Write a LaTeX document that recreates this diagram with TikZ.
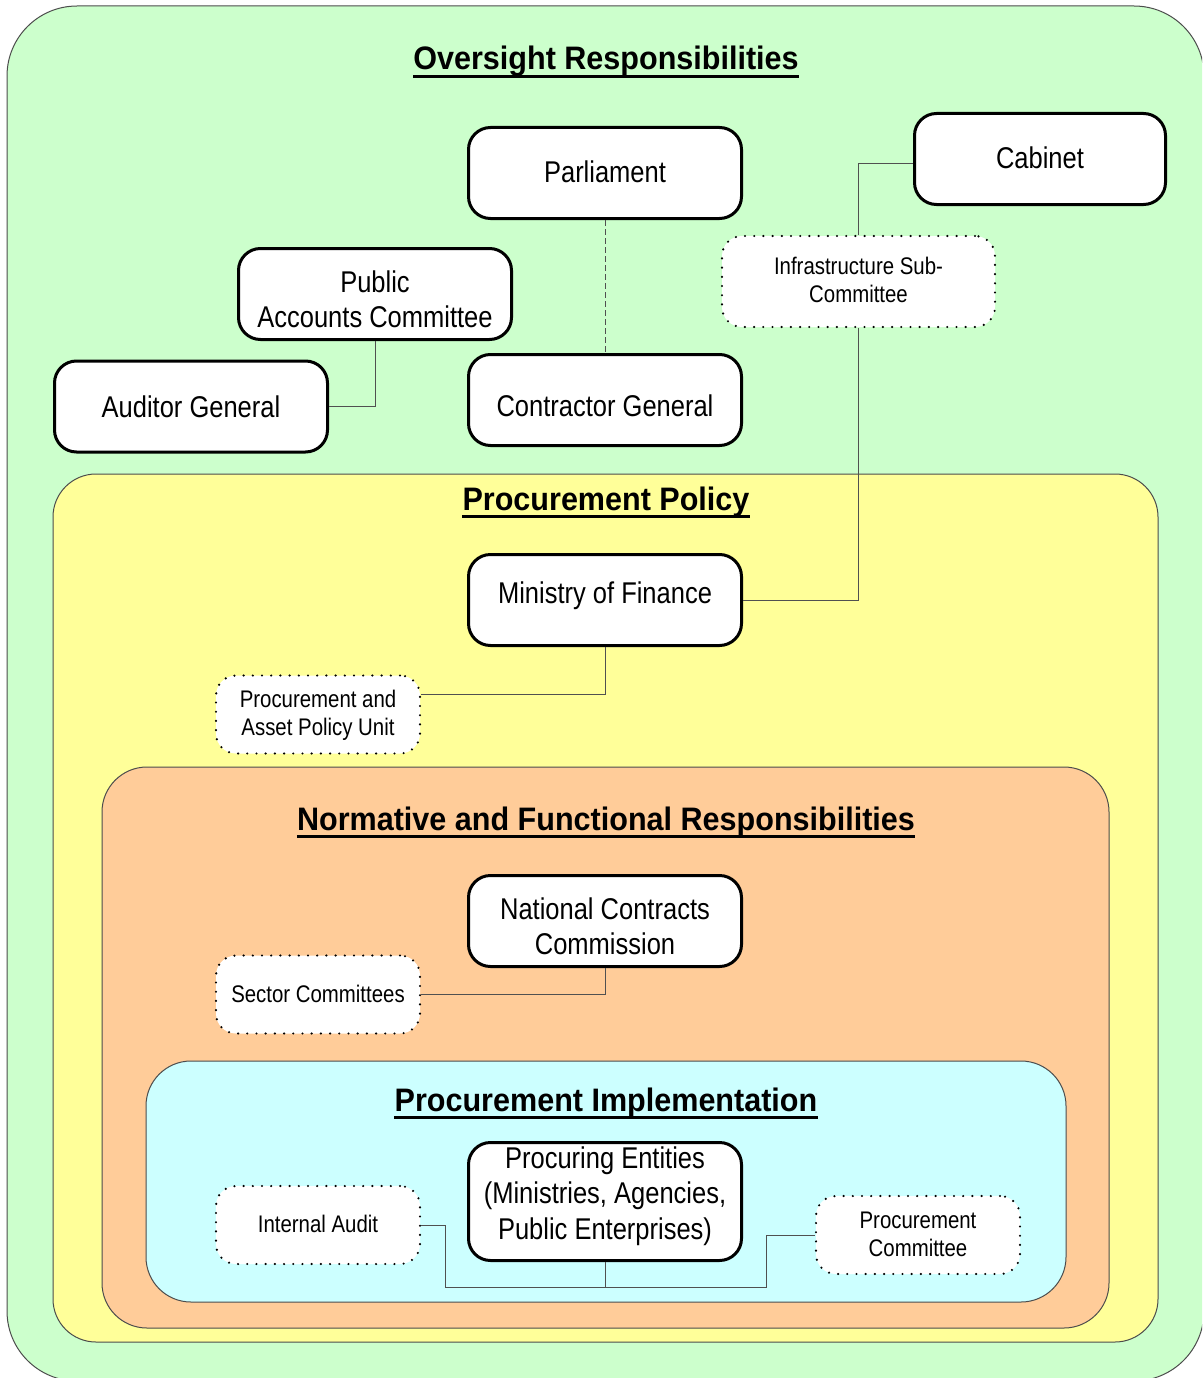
\documentclass[tikz,border=0pt]{standalone}
\usepackage{fontspec}
\setmainfont{Liberation Sans}
\newfontfamily\nfont[FakeStretch=0.85]{Liberation Sans}
\newfontfamily\tfont[FakeStretch=0.94]{Liberation Sans}
\definecolor{greenbg}{HTML}{CCFFCC}
\definecolor{yellowbg}{HTML}{FFFF99}
\definecolor{orangebg}{HTML}{FFCC99}
\definecolor{cyanbg}{HTML}{CCFFFF}
\definecolor{conn}{HTML}{505050}
\newcommand\tx[2]{\raisebox{#1pt}[\height][\depth]{\begin{tabular}{@{}c@{}}#2\end{tabular}}}
\tikzset{
  mainbox/.style={draw=black, line width=3pt, fill=white, rounded corners=22pt,
    minimum width=273pt, minimum height=91pt, inner sep=0pt,
    font=\nfont\fontsize{30}{35.5}\selectfont},
  dotbox/.style={draw=black, line width=2.4pt, dash pattern=on 0pt off 9.2pt, line cap=round,
    fill=white, rounded corners=20pt, minimum width=204pt, minimum height=78pt, inner sep=0pt,
    font=\nfont\fontsize{24}{28}\selectfont},
  cont/.style={draw=black!70, line width=1pt},
  title/.style={inner sep=0pt, anchor=base, font=\tfont\fontsize{32.5}{38}\selectfont\bfseries},
  uline/.style={line width=3pt},
  link/.style={draw=conn, line width=1pt},
}
\begin{document}
\begin{tikzpicture}[x=1pt,y=-1pt]
\useasboundingbox (0,0) rectangle (1202,1378);
\begin{scope}
\clip (0,0) rectangle (1202,1378);
\draw[cont, fill=greenbg, rounded corners=70pt] (7,6) rectangle (1204,1381);
\end{scope}
\draw[cont, fill=yellowbg, rounded corners=43pt] (53,474) rectangle (1158,1342);
\draw[cont, fill=orangebg, rounded corners=45pt] (102,767) rectangle (1109,1328);
\draw[cont, fill=cyanbg, rounded corners=45pt] (146,1061) rectangle (1066,1302);

% titles
\node[title] (t1) at (606,70) {Oversight Responsibilities};
\node[title] (t2) at (606,510) {Procurement Policy};
\node[title] (t3) at (606,830) {Normative and Functional Responsibilities};
\node[title] (t4) at (606,1111) {Procurement Implementation};
\foreach \t in {t1,t2,t3,t4}
  \draw[uline] ([yshift=-6.5pt]\t.base west) -- ([yshift=-6.5pt]\t.base east);

% oversight nodes
\node[mainbox] (parl) at (605,173) {\tx{-2.2}{Parliament}};
\node[mainbox, minimum width=251pt] (cab) at (1040,159) {\tx{-2.7}{Cabinet}};
\node[mainbox] (pac) at (375,294) {\tx{-8.7}{Public\\Accounts Committee}};
\node[mainbox] (ag) at (191,406.5) {\tx{-3.7}{Auditor General}};
\node[mainbox] (cg) at (605,400) {\tx{-9.2}{Contractor General}};
\node[dotbox, minimum width=273pt, minimum height=91pt] (isc) at (858.5,281.5) {\tx{-1.2}{Infrastructure Sub-\\Committee}};

% policy
\node[mainbox] (mof) at (605,600) {\tx{3.8}{Ministry of Finance}};
\node[dotbox] (papu) at (318,714.5) {\tx{-1.2}{Procurement and\\Asset Policy Unit}};

% normative
\node[mainbox] (ncc) at (605,921) {\tx{-8.7}{National Contracts\\Commission}};
\node[dotbox] (sc) at (318,994.5) {\tx{-2.2}{Sector Committees}};

% implementation
\node[mainbox, minimum height=118pt] (pe) at (605,1201.5) {\tx{4.8}{Procuring Entities\\(Ministries, Agencies,\\Public Enterprises)}};
\node[dotbox] (ia) at (318,1225) {\tx{-1.7}{Internal Audit}};
\node[dotbox] (pc) at (918,1235) {\tx{-1.7}{Procurement\\Committee}};

% connectors
\draw[link, dash pattern=on 6pt off 3pt] (parl.south) -- (cg.north);
\draw[link] (pac.south) |- (ag.east);
\draw[link] ([yshift=-4pt]cab.west) -| (isc.north);
\draw[link] (isc.south) |- (mof.east);
\draw[link] (mof.south) |- ([yshift=20.5pt]papu.east);
\draw[link] (ncc.south) |- (sc.east);
\coordinate (iaj) at (445,1287);
\coordinate (pej) at (605,1287);
\coordinate (pcj) at (766,1287);
\draw[link] (ia.east) -| (iaj) -- (pcj) |- (pc.west);
\draw[link] (pe.south) -- (pej);
\end{tikzpicture}
\end{document}
